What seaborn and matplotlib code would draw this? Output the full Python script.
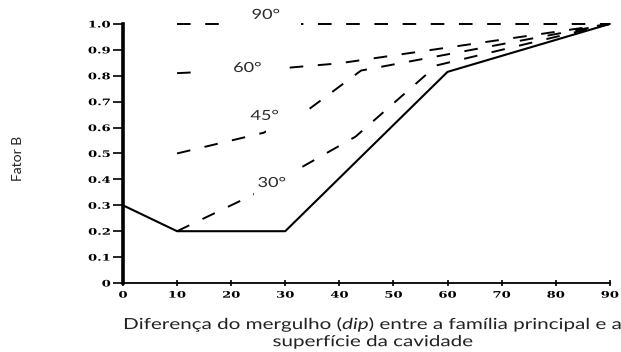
import numpy as np
import pandas as pd
import matplotlib
matplotlib.use("Agg")
import matplotlib.pyplot as plt
from matplotlib.patches import Rectangle
from matplotlib.patheffects import AbstractPathEffect
from matplotlib.transforms import Affine2D
import seaborn as sns

# Fator B vs. diferença de mergulho (graus), uma curva por diferença de direção
dip_0 = [0, 10, 30, 60, 90]
fb_0 = [0.30, 0.20, 0.20, 0.815, 1.00]

dip_30 = [10, 24, 43, 58, 90]
fb_30 = [0.20, 0.34, 0.565, 0.84, 1.00]

dip_45 = [10, 26, 34, 44, 90]
fb_45 = [0.50, 0.58, 0.665, 0.82, 1.00]

dip_60 = [10, 30, 40, 90]
fb_60 = [0.81, 0.83, 0.848, 1.00]

dip_90 = [10, 90]
fb_90 = [1.00, 1.00]

curve_labels = ["90°", "60°", "45°", "30°"]

x_ticks = [0, 10, 20, 30, 40, 50, 60, 70, 80, 90]
y_ticks = [0, 0.1, 0.2, 0.3, 0.4, 0.5, 0.6, 0.7, 0.8, 0.9, 1.0]
y_ticklabels = ["0", "0.1", "0.2", "0.3", "0.4", "0.5", "0.6", "0.7", "0.8", "0.9", "1.0"]


class WideText(AbstractPathEffect):
    """Draw glyph outlines widened horizontally about a chosen anchor."""

    def __init__(self, sx, anchor="center"):
        super().__init__()
        self.sx = sx
        self.anchor = anchor

    def draw_path(self, renderer, gc, tpath, affine, rgbFace=None):
        ext = tpath.get_extents(affine)
        if self.anchor == "right":
            cx = ext.x1
        elif self.anchor == "left":
            cx = ext.x0
        else:
            cx = 0.5 * (ext.x0 + ext.x1)
        wide = affine + Affine2D().translate(-cx, 0).scale(self.sx, 1.0).translate(cx, 0)
        renderer.draw_path(gc, tpath, wide, rgbFace)


sns.set_theme(style="white")
plt.rcParams["font.family"] = ["Lato", "DejaVu Sans"]
plt.rcParams["mathtext.fontset"] = "custom"
plt.rcParams["mathtext.rm"] = "Lato"
plt.rcParams["mathtext.it"] = "Lato:italic"

fig = plt.figure(figsize=(6.21, 3.52), dpi=100)
ax = fig.add_axes([0.198, 0.196, 0.784, 0.736])

curves = [
    (dip_0, fb_0, "-"),
    (dip_30, fb_30, "--"),
    (dip_45, fb_45, "--"),
    (dip_60, fb_60, "--"),
    (dip_90, fb_90, "--"),
]
for xs, ys, ls in curves:
    df = pd.DataFrame({"dip": xs, "fator": ys})
    line_kw = dict(color="black", linewidth=1.5, clip_on=False, zorder=3)
    if ls == "--":
        line_kw.update(linewidth=1.4, dashes=(7, 7.5))
    sns.lineplot(data=df, x="dip", y="fator", ax=ax, **line_kw)

# breaks in the dashed curves where the angle labels sit
gaps = [
    (19.8, 33.0, 0.97, 1.03),
    (15.2, 29.2, 0.79, 0.85),
    (26.4, 34.2, 0.56, 0.69),
    (24.2, 32.8, 0.32, 0.47),
]
for x0, x1, y0, y1 in gaps:
    ax.add_patch(Rectangle((x0, y0), x1 - x0, y1 - y0, facecolor="white",
                           edgecolor="none", zorder=4, clip_on=False))

label_pos = [(26.4, 1.035), (23.0, 0.83), (26.2, 0.645), (27.5, 0.386)]
for txt, (lx, ly) in zip(curve_labels, label_pos):
    ax.text(lx, ly, txt, ha="center", va="center", fontsize=10,
            color="#2a2a2a", zorder=5, clip_on=False,
            path_effects=[WideText(1.3)])

ax.set_xlim(0, 90)
ax.set_ylim(0, 1.0)
ax.set_xticks(x_ticks)
ax.set_yticks(y_ticks)
ax.set_yticklabels(y_ticklabels)

for lab in ax.get_xticklabels():
    lab.set_family("DejaVu Serif")
    lab.set_fontweight("bold")
    lab.set_fontsize(6.5)
    lab.set_color("black")
    lab.set_path_effects([WideText(1.45)])
for lab in ax.get_yticklabels():
    lab.set_family("DejaVu Serif")
    lab.set_fontweight("bold")
    lab.set_fontsize(6.5)
    lab.set_color("black")
    lab.set_path_effects([WideText(1.45, anchor="right")])

ax.tick_params(axis="y", direction="out", length=7, width=1.2, pad=2,
               left=True, color="black")
ax.tick_params(axis="x", direction="inout", length=5, width=1.2, pad=3,
               bottom=True, color="black")

sns.despine(ax=ax)
ax.spines["left"].set_linewidth(2.6)
ax.spines["left"].set_color("black")
ax.spines["bottom"].set_linewidth(1.3)
ax.spines["bottom"].set_color("black")
ax.grid(False)

ax.set_xlabel("Diferença do mergulho ($\\mathit{dip}$) entre a família principal e a\nsuperfície da cavidade",
              fontsize=11, color="#222222", linespacing=1.1,
              path_effects=[WideText(1.35)])
ax.xaxis.set_label_coords(0.513, -0.12)
ax.set_ylabel("Fator B", fontsize=10, color="#222222", va="center")
ax.yaxis.set_label_coords(-0.216, 0.48)

fig.savefig("out.png", dpi=100)
